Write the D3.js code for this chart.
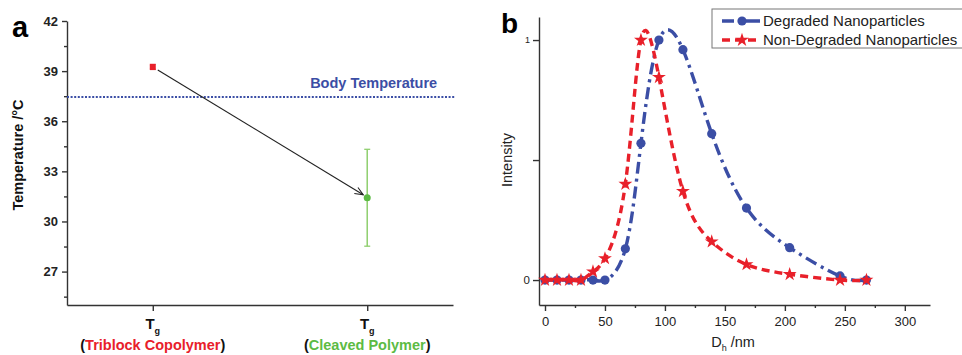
<!DOCTYPE html>
<html>
<head>
<meta charset="utf-8">
<script src="https://cdn.jsdelivr.net/npm/d3@7"></script>
<style>
  body { margin: 0; background: #fff; }
  svg { display: block; font-family: Arial, "Liberation Sans", sans-serif; }
</style>
</head>
<body>
<div class="plot"></div>
<script>
// ---- panel a data ----
const tempCats = ["Triblock Copolymer", "Cleaved Polymer"];
const tempValues = [39.25, 31.42];
const tempErrors = [0.15, 2.9];
const bodyTemp = 37.45;
const tempTicks = [27, 30, 33, 36, 39, 42];

// ---- panel b data ----
const sizeNm = [0, 10, 20, 30, 40, 50, 67, 80, 95, 115, 139, 168, 204, 246, 268];
const degraded = [0, 0, 0, 0, 0, 0, 0.13, 0.57, 1.0, 0.96, 0.61, 0.30, 0.135, 0.017, 0];
const nonDegraded = [0, 0, 0, 0, 0.035, 0.09, 0.40, 1.0, 0.845, 0.37, 0.16, 0.065, 0.024, 0, 0];
const seriesNames = ["Degraded Nanoparticles", "Non-Degraded Nanoparticles"];
const sizeTicks = [0, 50, 100, 150, 200, 250, 300];

const W = 962, H = 355;
const red = "#e8202a", green = "#5cbb44", greenLight = "#8fcf6e", blue = "#3b4ea5", axisCol = "#333";

const svg = d3.select(".plot").append("svg")
    .attr("width", W)
    .attr("height", H);

// ================= panel a =================
const xa = d3.scaleLinear().domain([0.6, 2.4]).range([67, 453]);
const ya = d3.scaleLinear().domain([25, 42]).range([305, 21]);
const ga = svg.append("g");

// y axis
const yAxisA = ga.append("g")
    .attr("transform", "translate(67,0)")
    .call(d3.axisLeft(ya).tickValues(tempTicks).tickSize(5).tickSizeOuter(0).tickPadding(4));
ga.append("g")
    .attr("transform", "translate(67,0)")
    .call(d3.axisLeft(ya).tickValues(d3.range(25.5, 42, 3)).tickSize(3).tickFormat("").tickSizeOuter(0))
    .select(".domain").remove();
yAxisA.selectAll("text").style("font-size", "13px").style("font-weight", "bold").attr("fill", "#222");

// x axis
const xAxisA = ga.append("g")
    .attr("transform", "translate(0,305)")
    .call(d3.axisBottom(xa).tickValues([1, 2]).tickSize(6).tickSizeOuter(0).tickFormat(""));

ga.selectAll(".domain, .tick line").attr("stroke", axisCol).attr("stroke-width", 1.4);

// category labels
tempCats.forEach((c, i) => {
    const cx = xa(i + 1);
    const t = ga.append("text")
        .attr("x", cx)
        .attr("y", 329)
        .attr("text-anchor", "middle")
        .style("font-weight", "bold")
        .style("font-size", "15px")
        .attr("fill", "#111");
    t.append("tspan").text("T");
    t.append("tspan").attr("dy", 5).style("font-size", "9px").text("g");

    const l = ga.append("text")
        .attr("x", cx)
        .attr("y", 350)
        .attr("text-anchor", "middle")
        .style("font-weight", "bold")
        .style("font-size", "14.5px")
        .attr("fill", "#111");
    l.append("tspan").text("(");
    l.append("tspan").attr("fill", i === 0 ? red : green).text(c);
    l.append("tspan").text(")");
});

// y title
ga.append("text")
    .attr("transform", "translate(23,155) rotate(-90)")
    .attr("text-anchor", "middle")
    .style("font-weight", "bold")
    .style("font-size", "14.5px")
    .attr("fill", "#111")
    .text("Temperature /°C");

// panel letter
ga.append("text")
    .attr("x", 12)
    .attr("y", 37)
    .style("font-weight", "bold")
    .style("font-size", "29px")
    .text("a");

// body temperature line
ga.append("line")
    .attr("x1", xa(0.6)).attr("x2", xa(2.4) + 2)
    .attr("y1", ya(bodyTemp)).attr("y2", ya(bodyTemp))
    .attr("stroke", blue)
    .attr("stroke-width", 2.2)
    .attr("stroke-dasharray", "2,1.6");
ga.append("text")
    .attr("x", xa(2.03))
    .attr("y", ya(bodyTemp) - 9)
    .attr("text-anchor", "middle")
    .style("font-weight", "bold")
    .style("font-size", "14.5px")
    .attr("fill", blue)
    .text("Body Temperature");

// arrow
const ax1 = xa(1) + 5, ay1 = ya(tempValues[0]) + 3;
const ax2 = xa(2) - 4, ay2 = ya(tempValues[1]) - 3;
ga.append("line")
    .attr("x1", ax1).attr("y1", ay1)
    .attr("x2", ax2).attr("y2", ay2)
    .attr("stroke", "#222").attr("stroke-width", 1.1);
const ang = Math.atan2(ay2 - ay1, ax2 - ax1);
const hl = 9, spread = 0.4;
ga.append("path")
    .attr("d", `M${ax2 - hl * Math.cos(ang - spread)},${ay2 - hl * Math.sin(ang - spread)} L${ax2},${ay2} L${ax2 - hl * Math.cos(ang + spread)},${ay2 - hl * Math.sin(ang + spread)}`)
    .attr("fill", "none").attr("stroke", "#222").attr("stroke-width", 1.1);

// error bars and points
tempValues.forEach((v, i) => {
    const cx = xa(i + 1);
    const col = i === 0 ? red : greenLight;
    const e = tempErrors[i];
    ga.append("line")
        .attr("x1", cx).attr("x2", cx)
        .attr("y1", ya(v - e)).attr("y2", ya(v + e))
        .attr("stroke", col).attr("stroke-width", 1.5);
    [v - e, v + e].forEach(yy => {
        ga.append("line")
            .attr("x1", cx - 3).attr("x2", cx + 3)
            .attr("y1", ya(yy)).attr("y2", ya(yy))
            .attr("stroke", col).attr("stroke-width", 1.3);
    });
    if (i === 0) {
        ga.append("rect")
            .attr("x", cx - 3).attr("y", ya(v) - 3)
            .attr("width", 6).attr("height", 6)
            .attr("rx", 1.5)
            .attr("fill", red);
    } else {
        ga.append("circle")
            .attr("cx", cx).attr("cy", ya(v))
            .attr("r", 3.5)
            .attr("fill", green);
    }
});

// ================= panel b =================
const xb = d3.scaleLinear().domain([-5, 321]).range([539, 930]);
const yb = d3.scaleLinear().domain([-0.104, 1.096]).range([305, 17]);
const gb = svg.append("g");

const xAxisB = gb.append("g")
    .attr("transform", "translate(0,305)")
    .call(d3.axisBottom(xb).tickValues(sizeTicks).tickSize(6).tickSizeOuter(0).tickPadding(6));
gb.append("g")
    .attr("transform", "translate(0,305)")
    .call(d3.axisBottom(xb).tickValues(d3.range(25, 320, 50)).tickSize(3).tickFormat(""))
    .select(".domain").remove();
xAxisB.selectAll("text").style("font-size", "13px").attr("fill", "#222");

const yAxisB = gb.append("g")
    .attr("transform", "translate(539,0)")
    .call(d3.axisLeft(yb).tickValues([0, 0.5, 1]).tickSize(6).tickSizeOuter(0).tickPadding(3)
        .tickFormat(d => d === 0.5 ? "" : d3.format("d")(d)));
yAxisB.selectAll("text").style("font-size", "11.5px").attr("fill", "#222");
yAxisB.selectAll("text").filter(d => d === 1).style("font-size", "9px");

gb.selectAll(".domain, .tick line").attr("stroke", axisCol).attr("stroke-width", 1.4);

// axis titles
const xt = gb.append("text")
    .attr("x", 733)
    .attr("y", 347)
    .attr("text-anchor", "middle")
    .style("font-size", "14.5px")
    .attr("fill", "#222");
xt.append("tspan").text("D");
xt.append("tspan").attr("dy", 4).style("font-size", "9px").text("h");
xt.append("tspan").attr("dy", -4).text(" /nm");

gb.append("text")
    .attr("transform", "translate(512,160) rotate(-90)")
    .attr("text-anchor", "middle")
    .style("font-size", "14.5px")
    .attr("fill", "#222")
    .text("Intensity");

gb.append("text")
    .attr("x", 501)
    .attr("y", 33)
    .style("font-weight", "bold")
    .style("font-size", "28px")
    .text("b");

// series
const line = d3.line()
    .x(d => xb(d[0]))
    .y(d => yb(d[1]))
    .curve(d3.curveNatural);

const star = d3.symbol().type(d3.symbolStar).size(60);

const series = [
    {name: seriesNames[0], vals: degraded, color: blue, dash: "12,5,3,5", marker: "circle"},
    {name: seriesNames[1], vals: nonDegraded, color: red, dash: "8,5", marker: "star"}
];

series.forEach(s => {
    const pts = sizeNm.map((x, i) => [x, s.vals[i]]);
    gb.append("path")
        .datum(pts)
        .attr("d", line)
        .attr("fill", "none")
        .attr("stroke", s.color)
        .attr("stroke-width", 3.4)
        .attr("stroke-dasharray", s.dash);
    if (s.marker === "circle") {
        gb.selectAll(null)
            .data(pts)
            .enter()
            .append("circle")
                .attr("cx", d => xb(d[0]))
                .attr("cy", d => yb(d[1]))
                .attr("r", 4.6)
                .attr("fill", s.color);
    } else {
        gb.selectAll(null)
            .data(pts)
            .enter()
            .append("path")
                .attr("d", star)
                .attr("transform", d => `translate(${xb(d[0])},${yb(d[1])})`)
                .attr("fill", s.color);
    }
});

// legend
const legend = gb.append("g");
legend.append("rect")
    .attr("x", 712).attr("y", 9)
    .attr("width", 270).attr("height", 39)
    .attr("fill", "#fff")
    .attr("stroke", "#777")
    .attr("stroke-width", 1);
series.forEach((s, i) => {
    const ly = 21 + i * 19;
    legend.append("line")
        .attr("x1", 722).attr("x2", 760)
        .attr("y1", ly).attr("y2", ly)
        .attr("stroke", s.color)
        .attr("stroke-width", 3.4)
        .attr("stroke-dasharray", i === 0 ? "12,5,38" : "8,5");
    if (s.marker === "circle") {
        legend.append("circle").attr("cx", 742).attr("cy", ly).attr("r", 4.6).attr("fill", s.color);
    } else {
        legend.append("path").attr("d", star).attr("transform", `translate(742,${ly})`).attr("fill", s.color);
    }
    legend.append("text")
        .attr("x", 763)
        .attr("y", ly + 5)
        .style("font-size", "15px")
        .attr("fill", "#222")
        .text(s.name);
});
</script>
</body>
</html>
